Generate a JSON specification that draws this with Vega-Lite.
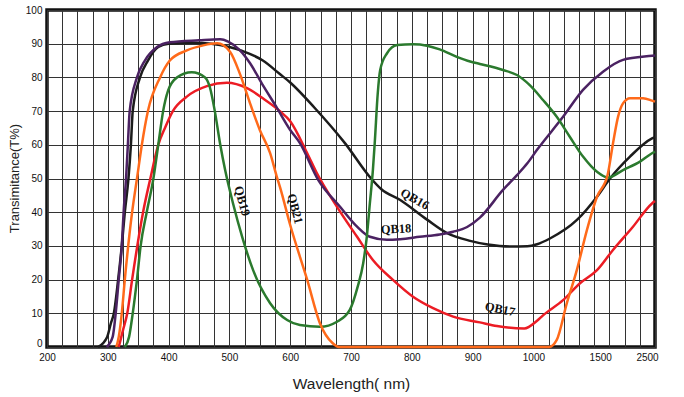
{
  "$schema": "https://vega.github.io/schema/vega-lite/v6.json",
  "width": 608,
  "height": 337,
  "autosize": "none",
  "padding": {"left": 47, "top": 10, "right": 29, "bottom": 50},
  "background": "white",
  "config": {
    "view": {"stroke": "#111", "strokeWidth": 3.5},
    "font": "Liberation Sans"
  },
  "datasets": {
    "curves": [
      {"s":"QB16","nm":284,"t":0},{"s":"QB16","nm":299,"t":3},{"s":"QB16","nm":305,"t":7},{"s":"QB16","nm":310,"t":10},{"s":"QB16","nm":317,"t":20},{"s":"QB16","nm":323,"t":30},{"s":"QB16","nm":328,"t":40},{"s":"QB16","nm":334,"t":50},{"s":"QB16","nm":338,"t":60},{"s":"QB16","nm":341,"t":70},{"s":"QB16","nm":353,"t":80},{"s":"QB16","nm":366,"t":85},{"s":"QB16","nm":383,"t":89},{"s":"QB16","nm":400,"t":90},{"s":"QB16","nm":440,"t":90.3},{"s":"QB16","nm":470,"t":90},{"s":"QB16","nm":500,"t":89},{"s":"QB16","nm":522,"t":87.8},{"s":"QB16","nm":555,"t":85},{"s":"QB16","nm":583,"t":81},{"s":"QB16","nm":600,"t":78.5},{"s":"QB16","nm":640,"t":71},{"s":"QB16","nm":690,"t":60.5},{"s":"QB16","nm":733,"t":50},{"s":"QB16","nm":750,"t":46.8},{"s":"QB16","nm":781,"t":43.6},{"s":"QB16","nm":825,"t":37.8},{"s":"QB16","nm":858,"t":33.8},{"s":"QB16","nm":896,"t":31.5},{"s":"QB16","nm":925,"t":30.4},{"s":"QB16","nm":962,"t":29.8},{"s":"QB16","nm":990,"t":29.9},{"s":"QB16","nm":1030,"t":30.5},{"s":"QB16","nm":1136,"t":32.2},{"s":"QB16","nm":1358,"t":37.7},{"s":"QB16","nm":1546,"t":44.6},{"s":"QB16","nm":1760,"t":50},{"s":"QB16","nm":2089,"t":56.5},{"s":"QB16","nm":2451,"t":61.9},{"s":"QB16","nm":2500,"t":62.3},

      {"s":"QB17","nm":318,"t":0},{"s":"QB17","nm":325,"t":5},{"s":"QB17","nm":332,"t":10},{"s":"QB17","nm":340,"t":20},{"s":"QB17","nm":358,"t":40},{"s":"QB17","nm":370,"t":50},{"s":"QB17","nm":383,"t":60},{"s":"QB17","nm":394,"t":65},{"s":"QB17","nm":407,"t":70},{"s":"QB17","nm":430,"t":74.3},{"s":"QB17","nm":463,"t":77.4},{"s":"QB17","nm":496,"t":78.4},{"s":"QB17","nm":529,"t":76.8},{"s":"QB17","nm":555,"t":73.8},{"s":"QB17","nm":583,"t":70},{"s":"QB17","nm":600,"t":67},{"s":"QB17","nm":628,"t":57.5},{"s":"QB17","nm":644,"t":51.5},{"s":"QB17","nm":677,"t":41.6},{"s":"QB17","nm":710,"t":32.7},{"s":"QB17","nm":736,"t":25.8},{"s":"QB17","nm":769,"t":19.9},{"s":"QB17","nm":802,"t":14.9},{"s":"QB17","nm":835,"t":11.5},{"s":"QB17","nm":868,"t":9},{"s":"QB17","nm":912,"t":7.3},{"s":"QB17","nm":940,"t":6.2},{"s":"QB17","nm":985,"t":5.5},{"s":"QB17","nm":1030,"t":7.8},{"s":"QB17","nm":1079,"t":9.4},{"s":"QB17","nm":1244,"t":13.9},{"s":"QB17","nm":1383,"t":18.9},{"s":"QB17","nm":1546,"t":22.8},{"s":"QB17","nm":1809,"t":28.8},{"s":"QB17","nm":2138,"t":35.7},{"s":"QB17","nm":2451,"t":42.6},{"s":"QB17","nm":2500,"t":43.3},

      {"s":"QB18","nm":298,"t":0},{"s":"QB18","nm":308,"t":3},{"s":"QB18","nm":313,"t":10},{"s":"QB18","nm":318,"t":20},{"s":"QB18","nm":323,"t":30},{"s":"QB18","nm":326,"t":40},{"s":"QB18","nm":330,"t":50},{"s":"QB18","nm":333,"t":60},{"s":"QB18","nm":336,"t":70},{"s":"QB18","nm":348,"t":80},{"s":"QB18","nm":361,"t":85},{"s":"QB18","nm":381,"t":89},{"s":"QB18","nm":402,"t":90.4},{"s":"QB18","nm":450,"t":91},{"s":"QB18","nm":485,"t":91.3},{"s":"QB18","nm":498,"t":90.6},{"s":"QB18","nm":517,"t":88.1},{"s":"QB18","nm":534,"t":84.2},{"s":"QB18","nm":555,"t":77.7},{"s":"QB18","nm":577,"t":71.3},{"s":"QB18","nm":600,"t":64.4},{"s":"QB18","nm":616,"t":60.5},{"s":"QB18","nm":646,"t":49.6},{"s":"QB18","nm":682,"t":41.6},{"s":"QB18","nm":710,"t":35.7},{"s":"QB18","nm":731,"t":32.7},{"s":"QB18","nm":759,"t":31.8},{"s":"QB18","nm":781,"t":32},{"s":"QB18","nm":813,"t":32.7},{"s":"QB18","nm":846,"t":33.4},{"s":"QB18","nm":868,"t":34.2},{"s":"QB18","nm":891,"t":35.6},{"s":"QB18","nm":912,"t":38.4},{"s":"QB18","nm":950,"t":46.6},{"s":"QB18","nm":973,"t":51},{"s":"QB18","nm":990,"t":54.5},{"s":"QB18","nm":1030,"t":58.5},{"s":"QB18","nm":1244,"t":68.3},{"s":"QB18","nm":1408,"t":76.3},{"s":"QB18","nm":1645,"t":81.7},{"s":"QB18","nm":1974,"t":85.2},{"s":"QB18","nm":2451,"t":86.4},{"s":"QB18","nm":2500,"t":86.5},

      {"s":"QB19","nm":328,"t":0},{"s":"QB19","nm":335,"t":3},{"s":"QB19","nm":341,"t":10},{"s":"QB19","nm":348,"t":20},{"s":"QB19","nm":354,"t":30},{"s":"QB19","nm":364,"t":40},{"s":"QB19","nm":375,"t":50},{"s":"QB19","nm":383,"t":60},{"s":"QB19","nm":391,"t":70},{"s":"QB19","nm":399,"t":76},{"s":"QB19","nm":414,"t":80},{"s":"QB19","nm":438,"t":81.5},{"s":"QB19","nm":460,"t":80},{"s":"QB19","nm":468,"t":77},{"s":"QB19","nm":476,"t":70},{"s":"QB19","nm":485,"t":60},{"s":"QB19","nm":493,"t":52.5},{"s":"QB19","nm":506,"t":42.6},{"s":"QB19","nm":521,"t":32.7},{"s":"QB19","nm":539,"t":22.8},{"s":"QB19","nm":567,"t":13},{"s":"QB19","nm":595,"t":8},{"s":"QB19","nm":616,"t":6.5},{"s":"QB19","nm":649,"t":6},{"s":"QB19","nm":677,"t":7.5},{"s":"QB19","nm":698,"t":11},{"s":"QB19","nm":711,"t":17.9},{"s":"QB19","nm":720,"t":24.8},{"s":"QB19","nm":726,"t":32.7},{"s":"QB19","nm":731,"t":42.6},{"s":"QB19","nm":736,"t":52.5},{"s":"QB19","nm":739,"t":60.4},{"s":"QB19","nm":744,"t":75.3},{"s":"QB19","nm":748,"t":82.2},{"s":"QB19","nm":759,"t":87.1},{"s":"QB19","nm":776,"t":89.6},{"s":"QB19","nm":802,"t":89.8},{"s":"QB19","nm":825,"t":89.4},{"s":"QB19","nm":846,"t":88.3},{"s":"QB19","nm":874,"t":86.1},{"s":"QB19","nm":896,"t":84.7},{"s":"QB19","nm":912,"t":84},{"s":"QB19","nm":950,"t":82.2},{"s":"QB19","nm":973,"t":80.7},{"s":"QB19","nm":994,"t":77.7},{"s":"QB19","nm":1079,"t":73.3},{"s":"QB19","nm":1192,"t":68.3},{"s":"QB19","nm":1299,"t":62.4},{"s":"QB19","nm":1408,"t":56.5},{"s":"QB19","nm":1546,"t":52},{"s":"QB19","nm":1727,"t":50.3},{"s":"QB19","nm":1974,"t":52.5},{"s":"QB19","nm":2253,"t":55},{"s":"QB19","nm":2451,"t":57.5},{"s":"QB19","nm":2500,"t":58},

      {"s":"QB21","nm":314,"t":0},{"s":"QB21","nm":318,"t":3},{"s":"QB21","nm":323,"t":10},{"s":"QB21","nm":328,"t":20},{"s":"QB21","nm":340,"t":40},{"s":"QB21","nm":348,"t":50},{"s":"QB21","nm":356,"t":60},{"s":"QB21","nm":366,"t":70},{"s":"QB21","nm":386,"t":80},{"s":"QB21","nm":402,"t":85},{"s":"QB21","nm":430,"t":88},{"s":"QB21","nm":457,"t":89.5},{"s":"QB21","nm":480,"t":90.1},{"s":"QB21","nm":501,"t":87.6},{"s":"QB21","nm":517,"t":81.2},{"s":"QB21","nm":534,"t":72.3},{"s":"QB21","nm":550,"t":64.4},{"s":"QB21","nm":567,"t":57.5},{"s":"QB21","nm":578,"t":50.5},{"s":"QB21","nm":583,"t":47.6},{"s":"QB21","nm":600,"t":36.2},{"s":"QB21","nm":628,"t":19.9},{"s":"QB21","nm":649,"t":7},{"s":"QB21","nm":670,"t":1.1},{"s":"QB21","nm":680,"t":0},{"s":"QB21","nm":1130,"t":0},{"s":"QB21","nm":1192,"t":2.1},{"s":"QB21","nm":1275,"t":13},{"s":"QB21","nm":1357,"t":22.8},{"s":"QB21","nm":1440,"t":34.7},{"s":"QB21","nm":1546,"t":44.6},{"s":"QB21","nm":1720,"t":51},{"s":"QB21","nm":1809,"t":60.4},{"s":"QB21","nm":1892,"t":68.3},{"s":"QB21","nm":1974,"t":72.3},{"s":"QB21","nm":2089,"t":73.8},{"s":"QB21","nm":2303,"t":73.8},{"s":"QB21","nm":2451,"t":73.1},{"s":"QB21","nm":2500,"t":72.8}
    ],
    "labels": [
      {"s":"QB16","nm":805,"t":43.9},
      {"s":"QB18","nm":774,"t":35},
      {"s":"QB19","nm":521,"t":43.3},
      {"s":"QB21","nm":608,"t":41},
      {"s":"QB17","nm":945,"t":11.2}
    ]
  },
  "encoding": {
    "x": {
      "field": "nm", "type": "quantitative",
      "scale": {"type": "linear", "domain": [200, 1000, 1500, 2500], "range": [0, 486.4, 547.2, 608], "nice": false, "zero": false},
      "axis": {
        "title": "Wavelength( nm)",
        "values": [200,225,250,275,300,325,350,375,400,425,450,475,500,525,550,575,600,625,650,675,700,725,750,775,800,825,850,875,900,925,950,975,1000,1125,1250,1375,1500,1750,2000,2250,2500],
        "format": "d",
        "labelExpr": "indexof([200,300,400,500,600,700,800,900,1000,1500,2500], datum.value) >= 0 ? datum.label : ''",
        "grid": true, "gridColor": "#333", "gridWidth": 1, "gridOpacity": 1,
        "ticks": false, "domain": false,
        "labelOverlap": false, "labelFlush": false,
        "labelFont": "Liberation Sans", "labelFontSize": 10, "labelColor": "#111", "labelPadding": 5,
        "labelOffset": {"condition": [{"test": "datum.value == 2500", "value": -8}, {"test": "datum.value == 1500", "value": 6}], "value": 0},
        "titleFont": "Liberation Sans", "titleFontSize": 15.5, "titleFontWeight": "normal", "titleColor": "#222",
        "titleX": 304, "titleY": 36, "titleBaseline": "middle", "titleAlign": "center"
      }
    },
    "y": {
      "field": "t", "type": "quantitative",
      "scale": {"domain": [0, 100], "nice": false},
      "axis": {
        "title": "Transimitance(T%)",
        "values": [0,10,20,30,40,50,60,70,80,90,100],
        "grid": true, "gridColor": "#333", "gridWidth": 1, "gridOpacity": 1,
        "ticks": false, "domain": false,
        "labelOverlap": false,
        "labelOffset": {"condition": {"test": "datum.value == 0", "value": -4}, "value": 0},
        "labelFont": "Liberation Sans", "labelFontSize": 10, "labelColor": "#111", "labelPadding": 5,
        "titleFont": "Liberation Sans", "titleFontSize": 13, "titleFontWeight": "normal", "titleColor": "#222",
        "titleAngle": -90, "titleX": -33, "titleY": 168, "titleBaseline": "middle", "titleAlign": "center"
      }
    }
  },
  "layer": [
    {
      "data": {"name": "curves"},
      "mark": {"type": "line", "strokeWidth": 2.5, "interpolate": "monotone"},
      "encoding": {
        "color": {
          "field": "s", "type": "nominal",
          "scale": {"domain": ["QB16","QB17","QB18","QB19","QB21"], "range": ["#1c1c1c","#ec1c24","#4b2262","#2b7a2e","#ff6a1a"]},
          "legend": null
        }
      }
    },
    {
      "data": {"name": "labels"},
      "transform": [{"filter": "datum.s == 'QB16'"}],
      "mark": {"type": "text", "font": "Liberation Serif", "fontWeight": "bold", "fontSize": 12.5, "color": "#111", "angle": 30},
      "encoding": {"text": {"field": "s"}}
    },
    {
      "data": {"name": "labels"},
      "transform": [{"filter": "datum.s == 'QB18'"}],
      "mark": {"type": "text", "font": "Liberation Serif", "fontWeight": "bold", "fontSize": 12.5, "color": "#111", "angle": -3},
      "encoding": {"text": {"field": "s"}}
    },
    {
      "data": {"name": "labels"},
      "transform": [{"filter": "datum.s == 'QB19' || datum.s == 'QB21'"}],
      "mark": {"type": "text", "font": "Liberation Serif", "fontWeight": "bold", "fontSize": 12.5, "color": "#111", "angle": 75},
      "encoding": {"text": {"field": "s"}}
    },
    {
      "data": {"name": "labels"},
      "transform": [{"filter": "datum.s == 'QB17'"}],
      "mark": {"type": "text", "font": "Liberation Serif", "fontWeight": "bold", "fontSize": 12.5, "color": "#111", "angle": 12},
      "encoding": {"text": {"field": "s"}}
    }
  ]
}
